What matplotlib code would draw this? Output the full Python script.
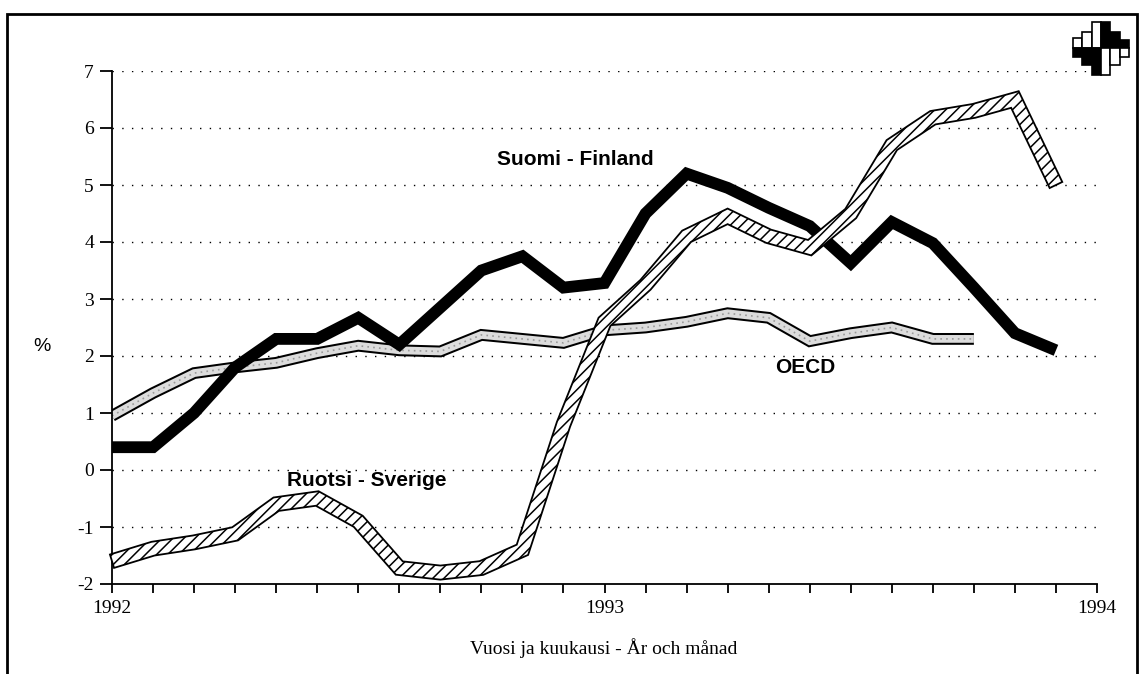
import numpy as np
import matplotlib
matplotlib.use('Agg')
import matplotlib.pyplot as plt
from matplotlib.patches import Polygon, Rectangle
from matplotlib.transforms import IdentityTransform

# monthly values, month 0 = January 1992
finland = [0.4, 0.4, 1.0, 1.8, 2.3, 2.3, 2.67, 2.2, 2.85, 3.5, 3.75, 3.2,
           3.28, 4.5, 5.2, 4.95, 4.6, 4.28, 3.63, 4.35, 3.98, 3.2, 2.4, 2.1]
sweden = [-1.6, -1.38, -1.27, -1.12, -0.6, -0.5, -0.9, -1.72, -1.8, -1.72, -1.4, 0.8,
          2.6, 3.25, 4.1, 4.45, 4.1, 3.9, 4.5, 5.7, 6.18, 6.3, 6.5, 5.0]
oecd = [0.95, 1.35, 1.7, 1.8, 1.88, 2.05, 2.18, 2.1, 2.08, 2.37, 2.3, 2.23,
        2.45, 2.5, 2.6, 2.75, 2.67, 2.26, 2.4, 2.5, 2.3, 2.3]

year_ticks = [0, 12, 24]
year_labels = ['1992', '1993', '1994']
y_ticks = [-2, -1, 0, 1, 2, 3, 4, 5, 6, 7]

W, H = 1142, 674
serif = 'Liberation Serif'
sans = 'Liberation Sans'
plt.rcParams['hatch.linewidth'] = 1.1

fig = plt.figure(figsize=(W / 100, H / 100), dpi=100)
ax = fig.add_axes([112 / W, 90 / H, 985 / W, 513 / H])
ax.set_xlim(0, 24)
ax.set_ylim(-2, 7)

for s in ['top', 'right']:
    ax.spines[s].set_visible(False)
for s in ['left', 'bottom']:
    ax.spines[s].set_linewidth(1.3)

ax.set_yticks(y_ticks)
ax.set_yticklabels([str(v) for v in y_ticks], fontfamily=serif, fontsize=14)
ax.set_xticks(range(0, 25))
ax.set_xticklabels([year_labels[year_ticks.index(m)] if m in year_ticks else '' for m in range(25)],
                   fontfamily=serif, fontsize=14)
ax.tick_params(axis='y', direction='out', length=9, width=1.3, pad=4)
ax.tick_params(axis='x', direction='out', length=6.5, width=1.3, pad=5)

for v in y_ticks[1:]:
    ax.axhline(v, color='black', lw=1, linestyle=(0, (1, 6)), zorder=1)

months = np.arange(len(finland))

# OECD: outlined, stippled light grey band
ox = np.arange(len(oecd))
ax.plot(ox, oecd, color='black', lw=8.5, solid_joinstyle='miter',
        solid_capstyle='butt', zorder=2)
ax.plot(ox, oecd, color='#dcdcdc', lw=5.6, solid_joinstyle='miter',
        solid_capstyle='butt', zorder=2.1)
ax.plot(ox, oecd, color='#9a9a9a', lw=1.2, linestyle=(0, (1, 2.5)), zorder=2.2)

# Finland: thick black line
ax.plot(months, finland, color='black', lw=8.5, solid_joinstyle='miter',
        solid_capstyle='butt', zorder=3)


def band(xs, ys, half):
    pts = ax.transData.transform(np.column_stack([xs, ys]))
    d = np.diff(pts, axis=0)
    nrm = np.column_stack([-d[:, 1], d[:, 0]])
    nrm /= np.hypot(nrm[:, 0], nrm[:, 1])[:, None]
    offs = np.zeros_like(pts)
    offs[0] = nrm[0] * half
    offs[-1] = nrm[-1] * half
    for i in range(1, len(pts) - 1):
        m = nrm[i - 1] + nrm[i]
        m /= np.hypot(*m)
        offs[i] = m * half / max(np.dot(m, nrm[i]), 0.4)
    return np.vstack([pts + offs, (pts - offs)[::-1]])


# Sweden: hatched band
poly = Polygon(band(np.arange(len(sweden)), sweden, 7), closed=True,
               transform=IdentityTransform(), facecolor='white', edgecolor='black',
               hatch='///', lw=1.3, zorder=4, clip_on=False)
ax.add_artist(poly)

ax.text(11.3, 5.45, 'Suomi - Finland', fontfamily=sans, fontweight='bold', fontsize=15,
        ha='center', va='center')
ax.text(16.9, 1.8, 'OECD', fontfamily=sans, fontweight='bold', fontsize=15,
        ha='center', va='center')
ax.text(6.2, -0.19, 'Ruotsi - Sverige', fontfamily=sans, fontweight='bold', fontsize=15,
        ha='center', va='center')

fig.text(42 / W, 1 - 347 / H, '%', fontfamily=sans, fontsize=14, ha='center', va='center')
fig.text(604 / W, 1 - 648 / H, 'Vuosi ja kuukausi - År och månad', fontfamily=serif,
         fontsize=14, ha='center', va='center')

# outer frame
fig.add_artist(Rectangle((7 / W, -0.01), 1130 / W, 1 - 14 / H + 0.01, transform=fig.transFigure,
                         fill=False, edgecolor='black', lw=2))

# small logo at top right
col_w = 9.3
tops = [38, 32, 22, 22, 32, 40]
bottoms = [57, 65, 75, 75, 65, 57]
upper_black = [False, False, False, True, True, True]
for i in range(6):
    x0 = 1073 + i * col_w
    for y0, y1, black in [(tops[i], 48, upper_black[i]), (48, bottoms[i], not upper_black[i])]:
        fig.add_artist(Rectangle((x0 / W, 1 - y1 / H), col_w / W, (y1 - y0) / H,
                                 transform=fig.transFigure,
                                 facecolor='black' if black else 'white',
                                 edgecolor='black', lw=1.2))

fig.savefig('out.png', dpi=100)
